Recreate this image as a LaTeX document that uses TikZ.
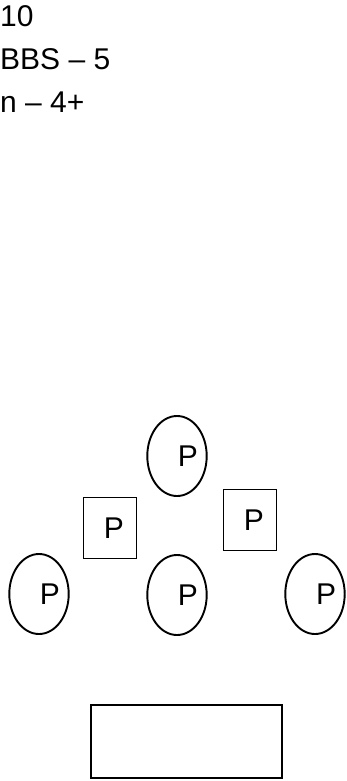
\documentclass[tikz,border=0pt]{standalone}
\usepackage{fontspec}
\setmainfont{Liberation Sans}
\usetikzlibrary{shapes.geometric}
\tikzset{
  pell/.style={draw,ellipse,line width=1.9pt,minimum width=58pt,minimum height=80pt,inner sep=0pt,execute at begin node={\hspace*{22pt}}},
  pbox/.style={draw,rectangle,line width=1.6pt,minimum width=53pt,minimum height=61pt,inner sep=0pt,execute at begin node={\hspace*{8pt}}},
  base/.style={draw,rectangle,line width=2.4pt,minimum width=191pt,minimum height=73pt,inner sep=0pt},
  note/.style={anchor=base west,inner sep=0pt},
}
\begin{document}
\begin{tikzpicture}[x=1pt,y=-1pt,font=\fontsize{30}{36}\selectfont]
\useasboundingbox (0,0) rectangle (346,781);
% notes at the top left
\node[note] (n1) at (0,27) {10};
\node[note] (n2) at (0,70) {BBS – 5};
\node[note] (n3) at (0,113) {n – 4+};
% the P shapes
\node[pell] (top) at (177,456) {P};
\node[pbox] (sql) at (110,528) {P};
\node[pbox] (sqr) at (250,520) {P};
\node[pell] (bl) at (39,594) {P};
\node[pell] (bm) at (177,595) {P};
\node[pell] (br) at (315,594) {P};
\node[base] (bed) at (186.5,741.5) {};
\end{tikzpicture}
\end{document}
